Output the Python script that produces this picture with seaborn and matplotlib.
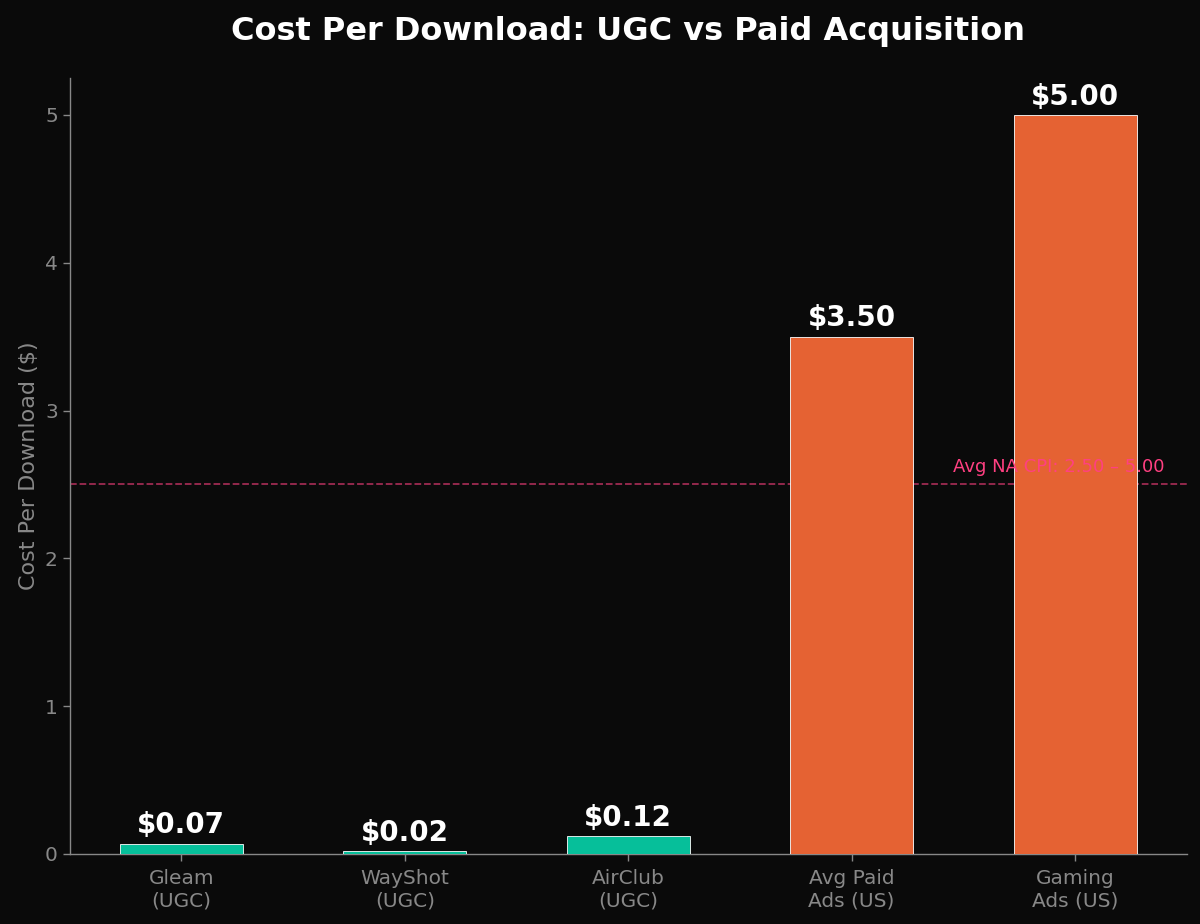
import matplotlib
matplotlib.use("Agg")
import matplotlib.pyplot as plt
import seaborn as sns
import pandas as pd

categories = ["Gleam\n(UGC)", "WayShot\n(UGC)", "AirClub\n(UGC)", "Avg Paid\nAds (US)", "Gaming\nAds (US)"]
values = [0.07, 0.02, 0.12, 3.50, 5.00]
groups = ["UGC", "UGC", "UGC", "Paid", "Paid"]
value_labels = ["$0.07", "$0.02", "$0.12", "$3.50", "$5.00"]
ref_value = 2.5
ref_label = "Avg NA CPI: 2.50 – 5.00"

bg = "#0a0a0a"
palette = {"UGC": "#06bf9a", "Paid": "#e56233"}

sns.set_theme(style="dark")
plt.rcParams["font.family"] = ["DejaVu Sans"]

df = pd.DataFrame({"cat": categories, "val": values, "grp": groups})

fig, ax = plt.subplots(figsize=(12, 9.24), dpi=100)
fig.patch.set_facecolor(bg)
ax.set_facecolor(bg)

sns.barplot(data=df, x="cat", y="val", hue="grp", palette=palette, dodge=False, saturation=1,
            width=0.55, edgecolor="white", linewidth=0.6, legend=False, ax=ax, zorder=3)

ax.axhline(ref_value, color="#ff4081", linestyle="--", linewidth=1.3, alpha=0.6, zorder=1)
ax.text(4.4, ref_value + 0.06, ref_label, color="#ff4081", fontsize=13, ha="right", va="bottom", zorder=5)

for i, (v, lab) in enumerate(zip(values, value_labels)):
    ax.text(i, v + 0.03, lab, ha="center", va="bottom", color="white", fontsize=20, fontweight="bold", zorder=6)

ax.set_title("Cost Per Download: UGC vs Paid Acquisition", color="white", fontsize=23, fontweight="bold", pad=27)
ax.set_xlabel("")
ax.set_ylabel("Cost Per Download ($)", color="#888888", fontsize=16)
ax.tick_params(axis="both", colors="#888888", labelsize=14.5, length=5, width=1, bottom=True, left=True)
ax.tick_params(axis="x", pad=6)
ax.grid(False)
for s in ["top", "right"]:
    ax.spines[s].set_visible(False)
for s in ["left", "bottom"]:
    ax.spines[s].set_visible(True)
    ax.spines[s].set_color("#888888")
    ax.spines[s].set_linewidth(1)

fig.subplots_adjust(left=0.058, right=0.989, top=0.9156, bottom=0.0758)
fig.savefig("out.png", dpi=100, facecolor=bg)
